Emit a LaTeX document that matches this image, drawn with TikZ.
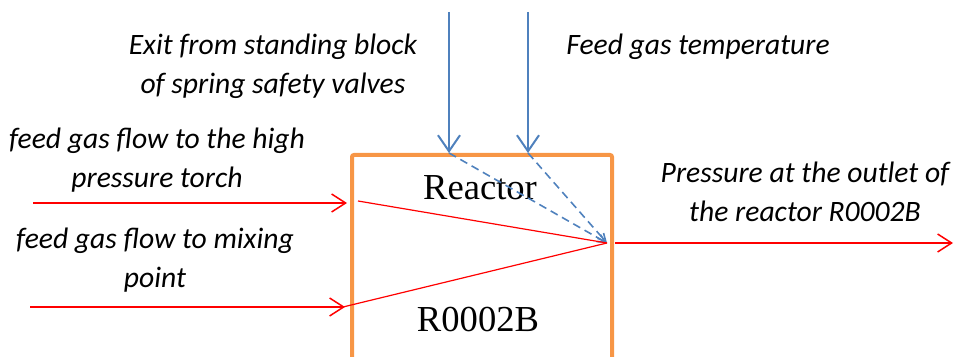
\documentclass[tikz,border=0pt]{standalone}
\usepackage{fontspec}
\setmainfont{Carlito}
\newfontfamily\boxfont{Liberation Serif}
\usetikzlibrary{arrows.meta,positioning}
\definecolor{reacorange}{RGB}{247,150,70}
\definecolor{sigblue}{RGB}{79,129,189}
\definecolor{sigred}{RGB}{255,0,0}
\begin{document}
\begin{tikzpicture}[x=0.5pt,y=-0.5pt,
every node/.style={inner sep=0pt},
lbl/.style={font=\fontsize{14.8}{19.3}\selectfont\itshape,align=center},
boxlbl/.style={font=\fontsize{18.3}{20}\selectfont\boxfont},
redflow/.style={sigred,line width=0.75pt,-{Straight Barb[length=7pt,width=9pt]}},
redmix/.style={sigred,line width=0.6pt},
blueflow/.style={sigblue,line width=1pt,-{Straight Barb[length=8pt,width=11pt]}},
bluemix/.style={sigblue,line width=0.8pt,dash pattern=on 4pt off 2.5pt,-{Straight Barb[length=4pt,width=4pt]}}]
\clip (0,0) rectangle (955,357);
% reactor box, open at the bottom of the picture
\node[draw=reacorange,line width=2pt,rounded corners=1pt,anchor=north west,
minimum width=130pt,minimum height=115pt] (reactor) at (350,153) {};
\node[boxlbl] (rname) at (480,188) {Reactor};
\node[boxlbl] (rcode) at (478,320) {R0002B};
% signal points
\coordinate (mix) at (607,243);
\coordinate (exitTop) at (449,12);
\coordinate (exitIn) at (449,153);
\coordinate (tempTop) at (528,12);
\coordinate (tempIn) at (528,153);
\coordinate (torchSrc) at (33,203);
\coordinate (torchIn) at (347,203);
\coordinate (torchStart) at (358,201);
\coordinate (mixSrc) at (30,307);
\coordinate (mixIn) at (345,307);
\coordinate (mixStart) at (343,307);
\coordinate (outStart) at (615,243);
\coordinate (outEnd) at (953,243);
% labels
\node[lbl] (exitlbl) at (273,66) {Exit from standing block\\of spring safety valves};
\node[lbl,anchor=west] (templbl) at (566,47) {Feed gas temperature};
\node[lbl] (torchlbl) at (157,160) {feed gas flow to the high\\pressure torch};
\node[lbl] (mixlbl) at (155,260) {feed gas flow to mixing\\point};
\node[lbl] (outlbl) at (805,192) {Pressure at the outlet of\\the reactor R0002B};
% flows
\draw[blueflow] (exitTop) -- (exitIn);
\draw[blueflow] (tempTop) -- (tempIn);
\draw[bluemix] (exitIn) -- (mix);
\draw[bluemix] (tempIn) -- (mix);
\draw[redflow] (torchSrc) -- (torchIn);
\draw[redflow] (mixSrc) -- (mixIn);
\draw[redmix] (torchStart) -- (mix);
\draw[redmix] (mixStart) -- (mix);
\draw[redflow] (outStart) -- (outEnd);
\end{tikzpicture}
\end{document}
